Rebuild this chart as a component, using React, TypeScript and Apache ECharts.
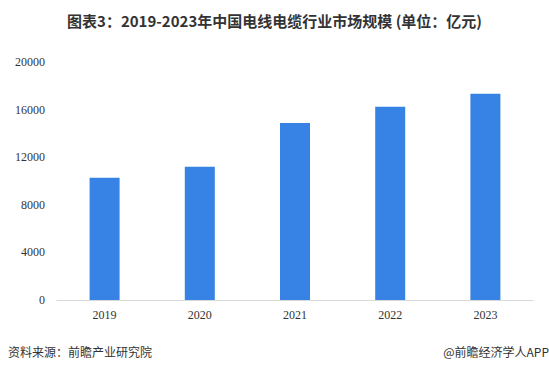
import React, { useEffect, useRef } from "react";
import * as echarts from "echarts";

const categories = ["2019", "2020", "2021", "2022", "2023"];
const values = [10270, 11190, 14880, 16230, 17330];
const yTicks = [0, 4000, 8000, 12000, 16000, 20000];

export default function App() {
  const ref = useRef<HTMLDivElement>(null);
  useEffect(() => {
    const chart = echarts.init(ref.current!, null, { renderer: "svg" });
    chart.setOption({
      animation: false,
      backgroundColor: "#ffffff",
      title: {
        text: "图表3：2019-2023年中国电线电缆行业市场规模 (单位：亿元)",
        left: "center",
        top: 8,
        textStyle: {
          fontFamily: "Noto Sans CJK SC",
          fontSize: 15,
          fontWeight: "bold",
          color: "#333333",
        },
      },
      grid: { left: 57, right: 16, top: 62, bottom: 72 },
      xAxis: {
        type: "category",
        data: categories,
        axisLine: { lineStyle: { color: "#D9D9D9", width: 1 } },
        axisTick: { show: false },
        axisLabel: {
          fontFamily: "Liberation Serif",
          fontSize: 12,
          color: "#333333",
          margin: 9,
        },
      },
      yAxis: {
        type: "value",
        min: yTicks[0],
        max: yTicks[yTicks.length - 1],
        interval: 4000,
        splitLine: { show: false },
        axisLine: { show: false },
        axisTick: { show: false },
        axisLabel: {
          fontFamily: "Liberation Serif",
          fontSize: 12,
          color: "#333333",
          margin: 12,
          formatter: (v: number) => String(v),
        },
      },
      series: [
        {
          type: "bar",
          data: values,
          barWidth: 30,
          itemStyle: { color: "#3783E5" },
        },
      ],
      graphic: [
        {
          type: "text",
          left: 8,
          top: 345,
          style: {
            text: "资料来源：前瞻产业研究院",
            fontFamily: "Noto Sans CJK SC",
            fontSize: 12,
            fill: "#333333",
          },
        },
        {
          type: "text",
          right: 0,
          top: 345,
          style: {
            text: "@前瞻经济学人APP",
            fontFamily: "Noto Sans CJK SC",
            fontSize: 12,
            fill: "#333333",
          },
        },
      ],
    });
    return () => chart.dispose();
  }, []);
  return <div ref={ref} style={{ width: 549, height: 372, position: "absolute", left: 0, top: 0 }} />;
}
